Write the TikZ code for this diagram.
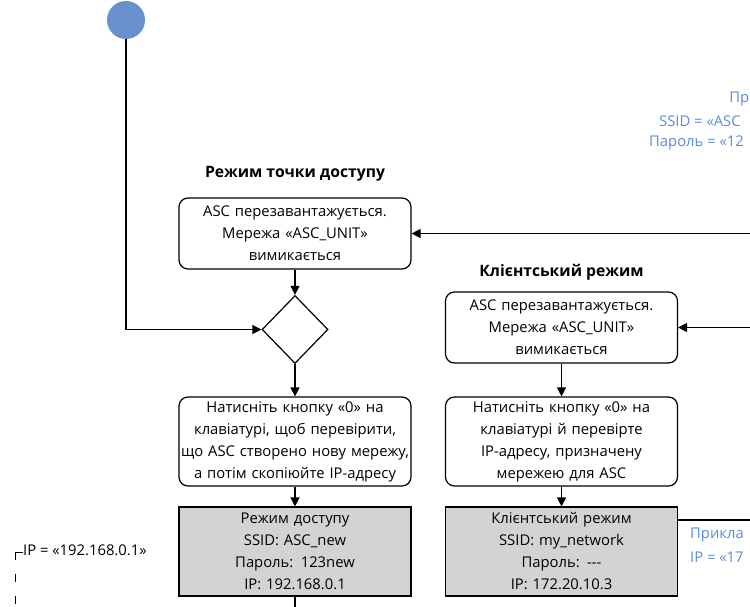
\documentclass[tikz,border=0pt]{standalone}
\usepackage{fontspec}
\setmainfont{Open Sans}
\usetikzlibrary{arrows.meta,shapes.geometric}
\definecolor{noteblue}{HTML}{5A8CD8}
\definecolor{startblue}{HTML}{6890CC}
\definecolor{boxgray}{HTML}{D3D3D3}
\begin{document}
\begin{tikzpicture}[x=1pt,y=-1pt,
  txt/.style={font=\fontsize{14.8}{22}\selectfont, align=center, inner sep=0pt},
  ttl/.style={font=\fontsize{15.7}{22}\selectfont\bfseries, inner sep=0pt},
  rbox/.style={txt, draw, line width=1.2pt, rounded corners=9pt, minimum width=232pt, text width=232pt},
  gbox/.style={txt, draw, fill=boxgray, line width=1.1pt, minimum width=232pt, text width=232pt, minimum height=89pt},
  flow/.style={line width=1.2pt, -{Triangle[length=9pt,width=9pt]}},
  plain/.style={line width=1.2pt},
  note/.style={font=\fontsize{14.8}{22}\selectfont, text=noteblue, inner sep=0pt},
  decision/.style={diamond, draw, line width=1.2pt, minimum width=66pt, minimum height=68pt, inner sep=0pt},
  startnode/.style={circle, fill=startblue, minimum size=38pt, inner sep=0pt}
]
\useasboundingbox (0,0) rectangle (750,607);
\clip (0,0) rectangle (750,607);

% start
\node[startnode] (start) at (126,20) {};

% access point column
\node[ttl] (apttl) at (295,174) {Режим точки доступу};
\node[rbox, minimum height=71pt] (ap1) at (295,233.5) {ASC перезавантажується.\\Мережа «ASC\_UNIT»\\вимикається};
\node[decision] (dec) at (295,329.5) {};
\node[rbox, minimum height=89pt] (ap2) at (295,441.5) {Натисніть кнопку «0» на\\клавіатурі, щоб перевірити,\\що ASC створено нову мережу,\\а потім скопіюйте IP-адресу};
\node[gbox] (ap3) at (295,551.5) {Режим доступу\\SSID: ASC\_new\\Пароль: 123new\\IP: 192.168.0.1};
\coordinate (apout) at (295,615);

% client column
\node[ttl] (clttl) at (561.5,272) {Клієнтський режим};
\node[rbox, minimum height=71pt] (cl1) at (561.5,327.5) {ASC перезавантажується.\\Мережа «ASC\_UNIT»\\вимикається};
\node[rbox, minimum height=89pt] (cl2) at (561.5,441.5) {Натисніть кнопку «0» на\\клавіатурі й перевірте\\IP-адресу, призначену\\мережею для ASC};
\node[gbox] (cl3) at (561.5,551.5) {Клієнтський режим\\SSID: my\_network\\Пароль: -{}-{}-\\IP: 172.20.10.3};

% incoming from the right (off picture)
\coordinate (inap) at (760,233.5);
\coordinate (incl) at (760,327.5);
\coordinate (clnote) at (760,520);

% connectors
\draw[flow] (start.south) |- (dec.west);
\draw[flow] (ap1.south) -- (dec.north);
\draw[flow] (dec.south) -- (ap2.north);
\draw[flow] (ap2.south) -- (ap3.north);
\draw[plain] (ap3.south) -- (apout);
\draw[flow] (inap) -- (ap1.east);
\draw[flow] (incl) -- (cl1.east);
\draw[flow] (cl1.south) -- (cl2.north);
\draw[flow] (cl2.south) -- (cl3.north);
\draw[plain] (cl3.east |- clnote) -- (clnote);

% notes (cut by the right edge as in the reference)
\node[note, anchor=east] (n1) at (749.5,99) {Пр};
\node[note, anchor=west] (n2) at (659,121) {SSID = «ASC};
\node[note, anchor=west] (n3) at (649,143) {Пароль = «12};
\node[note, anchor=west] (n4) at (690,535) {Прикла};
\node[note, anchor=west] (n4b) at (690,557) {IP = «17};

% left note
\node[txt, anchor=west] (n5) at (23,550) {IP = «192.168.0.1»};
\coordinate (lt) at (15,552);
\coordinate (lb) at (15,615);
\draw[line width=1pt] (n5.west |- lt) -- (lt);
\draw[line width=1pt, dash pattern=on 8pt off 14pt] (lt) -- (lb);
\end{tikzpicture}
\end{document}
